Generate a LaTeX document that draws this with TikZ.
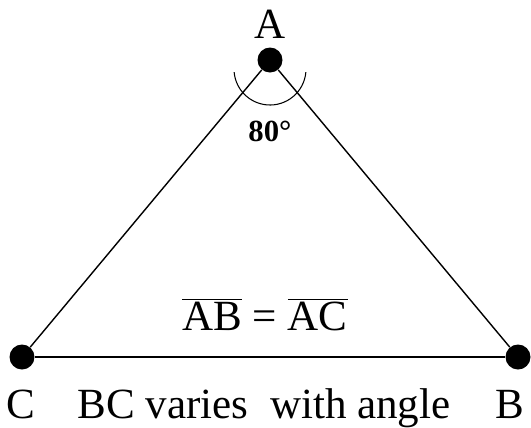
\documentclass[tikz,border=0pt]{standalone}
\usepackage{fontspec}
\setmainfont{Liberation Serif}
\usetikzlibrary{positioning}

\tikzset{
  vertex/.style={circle, fill=black, inner sep=0pt, minimum size=0.5cm},
  side/.style={line width=0.8pt},
  lbl/.style={font=\fontsize{24.5}{28}\selectfont, inner sep=0pt},
}

\begin{document}
\begin{tikzpicture}[x=0.02cm, y=-0.02cm]
  \useasboundingbox (0,0) rectangle (531,427);
  \node[vertex] (A) at (270,60) {};
  \node[vertex] (C) at (22,357) {};
  \node[vertex] (B) at (518,357) {};

  \draw[side] (A) -- (C);
  \draw[side] (A) -- (B);
  \draw[line width=1pt] (C) -- (B);

  % angle at A
  \coordinate (O) at (270,69);
  \draw[line width=0.6pt] (O) ++(5:36) arc (5:175:36);
  \node[font=\bfseries\fontsize{17.5}{20}\selectfont, inner sep=0pt] (ang) at (270,131) {80°};

  \node[lbl] (lA) at (270,24) {A};
  \node[lbl, anchor=base] (lC) at (21,418) {C};
  \node[lbl, anchor=base] (lB) at (510,418) {B};
  \node[lbl, anchor=base] (note) at (264,418) {BC varies\ \ with angle};
  \node[lbl, anchor=base] (eq) at (265,330) {$\overline{\hbox{AB}}$ = $\overline{\hbox{AC}}$};
\end{tikzpicture}
\end{document}
